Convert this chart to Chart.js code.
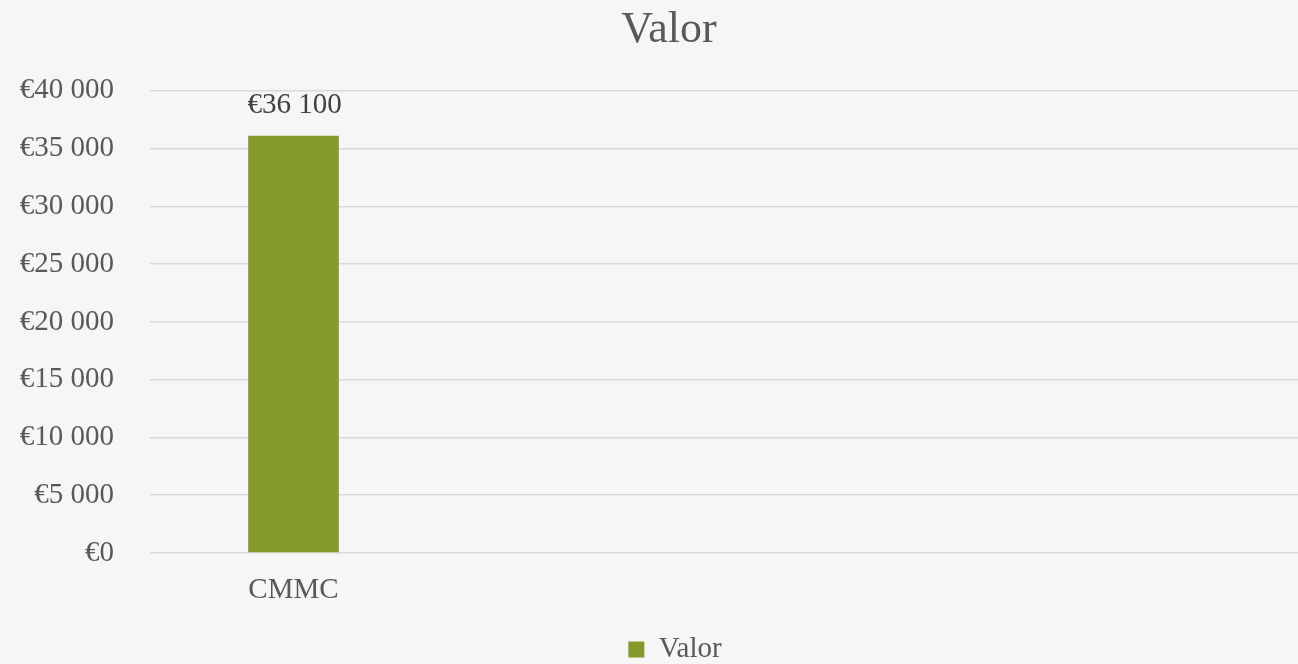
<!DOCTYPE html>
<html>
<head>
<meta charset="utf-8">
<script src="https://cdn.jsdelivr.net/npm/chart.js@4/dist/chart.umd.min.js"></script>
<style>
  html, body { margin: 0; padding: 0; background: #f6f6f6; }
  #wrap { width: 1298px; height: 664px; position: relative; }
</style>
</head>
<body>
<div id="wrap"><canvas id="c" width="1298" height="664"></canvas></div>
<script>
const categories = ['CMMC', '', '', ''];
const values = [36100, null, null, null];
const seriesName = 'Valor';
const chartTitle = 'Valor';
const tickValues = [0, 5000, 10000, 15000, 20000, 25000, 30000, 35000, 40000];
const tickLabels = ['€0', '€5 000', '€10 000', '€15 000', '€20 000', '€25 000', '€30 000', '€35 000', '€40 000'];
const dataLabels = ['€36 100', '', '', ''];

const FONT = "'Liberation Serif', 'Times New Roman', serif";
const TEXT = '#595959';
const GREEN = '#849b2b';

const valueLabelPlugin = {
  id: 'valueLabels',
  afterDatasetsDraw(chart) {
    const ctx = chart.ctx;
    const meta = chart.getDatasetMeta(0);
    ctx.save();
    ctx.font = '29px ' + FONT;
    ctx.fillStyle = '#404040';
    ctx.textAlign = 'center';
    ctx.textBaseline = 'middle';
    meta.data.forEach((bar, i) => {
      if (values[i] == null) return;
      ctx.fillText(dataLabels[i], bar.x + 1, bar.y - 30);
    });
    ctx.restore();
  }
};

// shift title and legend horizontally to match the reference's centring
const shiftPlugin = {
  id: 'shiftBlocks',
  afterLayout(chart) {
    if (chart.titleBlock) { chart.titleBlock.left += 40; }
    if (chart.legend) { chart.legend.left += 52; }
  }
};

new Chart(document.getElementById('c'), {
  type: 'bar',
  data: {
    labels: categories,
    datasets: [{
      label: seriesName,
      data: values,
      backgroundColor: GREEN,
      borderWidth: 0,
      categoryPercentage: 1.0,
      barPercentage: 0.316
    }]
  },
  options: {
    responsive: false,
    animation: false,
    devicePixelRatio: 1,
    layout: { padding: { left: 0, right: 0, top: 0, bottom: -10 } },
    plugins: {
      title: {
        display: true,
        text: chartTitle,
        color: TEXT,
        font: { family: FONT, size: 44, weight: 'normal' },
        padding: { top: 4, bottom: 34 }
      },
      legend: {
        display: true,
        position: 'bottom',
        labels: {
          color: TEXT,
          font: { family: FONT, size: 29 },
          boxWidth: 16,
          boxHeight: 16,
          padding: 10
        }
      },
      tooltip: { enabled: false }
    },
    scales: {
      x: {
        grid: { display: false, drawTicks: false },
        border: { display: false },
        ticks: {
          color: TEXT,
          font: { family: FONT, size: 29 },
          padding: 20,
          maxRotation: 0,
          autoSkip: false
        },
        afterFit(scale) { scale.height = 72; }
      },
      y: {
        min: 0,
        max: 40000,
        afterBuildTicks(scale) { scale.ticks = tickValues.map(v => ({ value: v })); },
        grid: { color: '#d9d9d9', lineWidth: 1.5, drawTicks: false },
        border: { display: false },
        ticks: {
          color: TEXT,
          font: { family: FONT, size: 29 },
          padding: 36,
          callback(value, index) { return tickLabels[index]; }
        },
        afterFit(scale) { scale.width = 150; }
      }
    }
  },
  plugins: [valueLabelPlugin, shiftPlugin]
});
</script>
</body>
</html>
